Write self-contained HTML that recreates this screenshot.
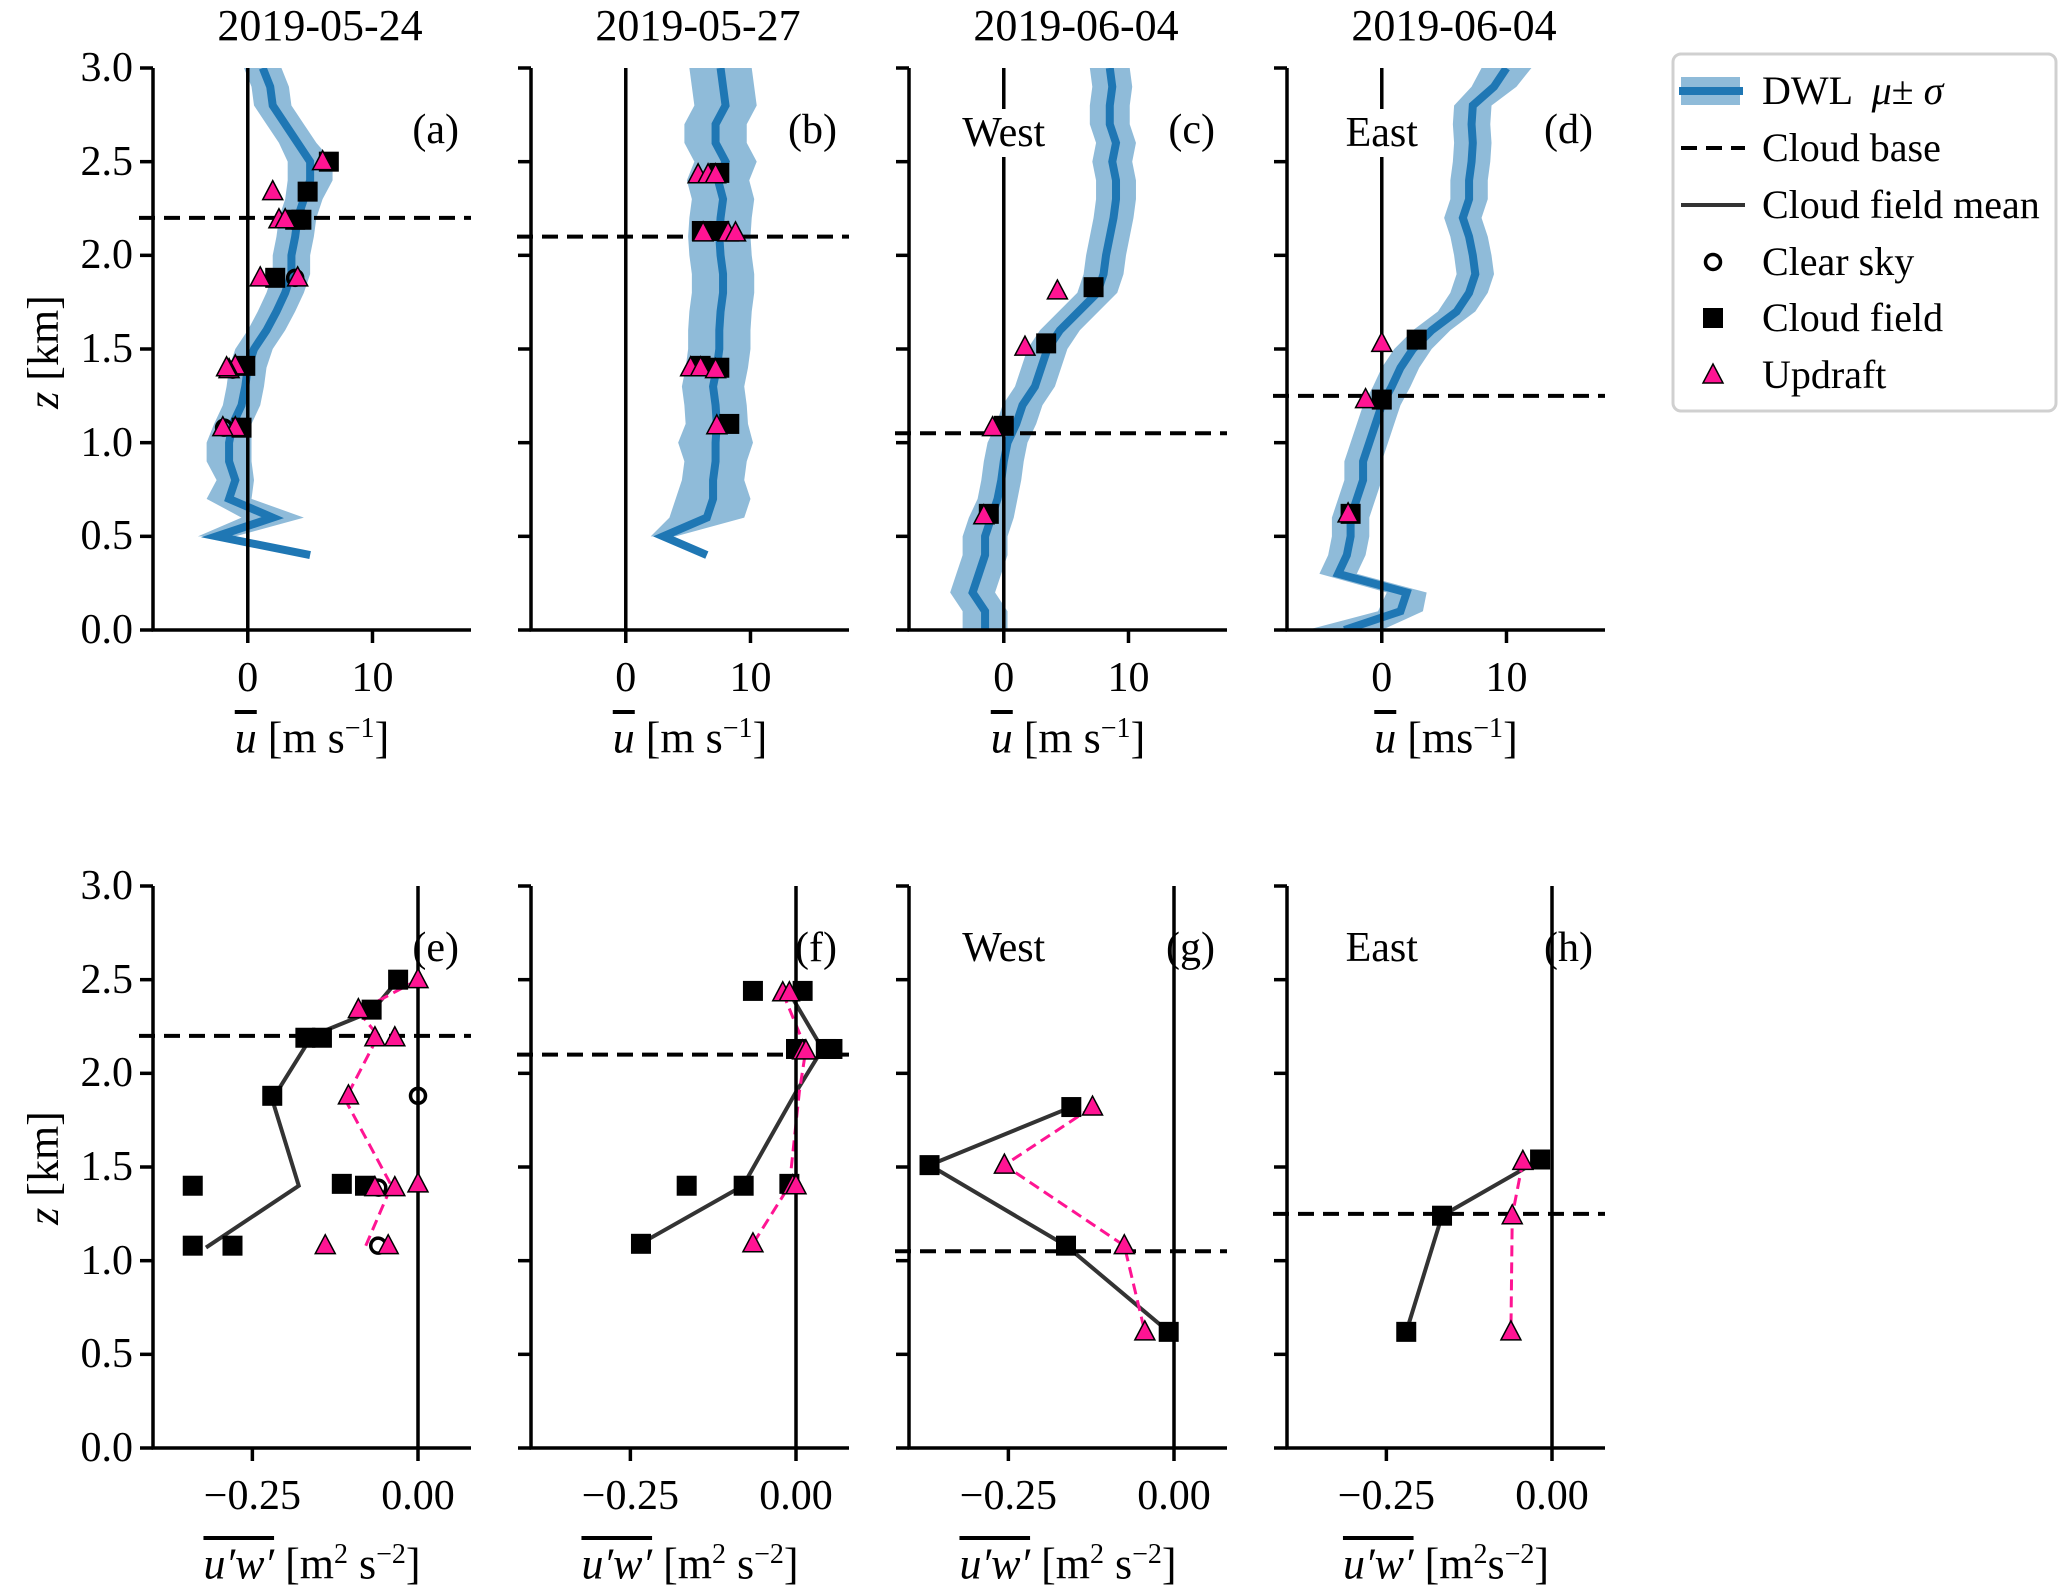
<!DOCTYPE html>
<html><head><meta charset="utf-8"><style>
body{margin:0;background:#fff;}
#wrap{position:relative;width:2067px;height:1592px;overflow:hidden;font-family:"Liberation Serif",serif;color:#000;}
.t{position:absolute;white-space:nowrap;font-size:42px;line-height:1;font-family:"Liberation Serif",serif;}
.ov{text-decoration:overline;font-style:italic;}
</style></head><body>
<div id="wrap">
<svg id="svg" width="2067" height="1592" style="position:absolute;left:0;top:0"></svg>
</div>
<script>
// ---- data ----
const panelTitles = ["2019-05-24","2019-05-27","2019-06-04","2019-06-04"];
const topLetters = ["(a)","(b)","(c)","(d)"];
const botLetters = ["(e)","(f)","(g)","(h)"];
const sideLabels = ["","","West","East"];
const cloudBase = [2.2,2.1,1.05,1.25];
const zA = [0.4,0.5,0.6,0.7,0.8,0.9,1.0,1.1,1.2,1.3,1.4,1.5,1.6,1.7,1.8,1.9,2.0,2.1,2.2,2.3,2.4,2.5,2.6,2.7,2.8,2.9,3.0];
const uA = [5,-2.5,2,-1.5,-1,-1.5,-1.5,-1.2,-0.5,-0.2,0,0.5,1.5,2.3,3,3.5,3.5,3.8,4,4.5,5,5,4,3,2,1.8,1.2];
const sA = [0,1.5,2.5,1.8,1.5,1.8,1.8,1.5,1.5,1.5,1.5,1.5,1.5,1.5,1.5,1.5,1.5,1.5,1.5,1.5,1.8,1.8,1.5,1.5,1.5,1.5,1.5];
const zB = zA;
const uB = [6.5,3,6.5,7,7,7.2,7.2,7.3,7.2,7,7.3,7.5,7.5,7.6,7.8,7.8,7.6,7.5,7.6,7.8,7.4,8,7.2,7.2,8,7.8,7.6];
const sB = [0,1,3,3,2.5,2.5,3,2.5,2.5,2.5,2.5,2.5,2.5,2.5,2.5,2.5,2.5,2.5,2.5,2.5,2.5,2.5,2.5,2.5,2.5,2.5,2.5];
const zC = [0,0.1,0.2,0.3,0.4,0.5,0.6,0.7,0.8,0.9,1.0,1.1,1.2,1.3,1.4,1.5,1.6,1.7,1.8,1.9,2.0,2.1,2.2,2.3,2.4,2.5,2.6,2.7,2.8,2.9,3.0];
const uC = [-1.5,-1.5,-2.5,-2,-1.5,-1.5,-1,-0.5,-0.2,0,0.3,1,1.5,2.5,3,3.5,4.5,6,7.5,8,8.2,8.5,8.8,9,9,8.7,9,8.5,8.5,8.7,8.5];
const sC = [1.8,1.8,1.8,1.8,1.8,1.8,1.8,1.6,1.6,1.6,1.6,1.6,1.6,1.6,1.6,1.6,1.6,1.6,1.6,1.6,1.6,1.6,1.6,1.6,1.6,1.6,1.6,1.6,1.6,1.6,1.6];
const zD = zC;
const uD = [-3,1.5,2,-3.5,-2.8,-2.5,-2.5,-2,-1.5,-1.5,-1,-0.5,0,0.8,1.5,2.5,4,6,7,7.5,7.3,7,6.5,7,7,7.2,7.3,7.2,7.3,9,10];
const sD = [3,1.8,1.6,1.5,1.5,1.5,1.5,1.5,1.5,1.5,1.5,1.5,1.5,1.5,1.5,1.5,1.5,1.5,1.5,1.5,1.5,1.5,1.5,1.5,1.5,1.5,1.5,1.5,1.5,1.8,2];
// top markers [u, z]
const topSq = [
 [[6.5,2.5],[4.8,2.34],[4.3,2.19],[3.8,2.19],[2.2,1.88],[-0.2,1.41],[-0.5,1.08]],
 [[7.5,2.44],[6.1,2.13],[7.5,2.13],[6.0,1.41],[7.5,1.40],[8.3,1.10]],
 [[7.2,1.83],[3.4,1.53],[0,1.09],[-1.2,0.62]],
 [[2.8,1.55],[0,1.23],[-2.5,0.62]]];
const topTri = [
 [[6.0,2.5],[2.0,2.34],[2.5,2.19],[3.0,2.19],[1.0,1.88],[4.0,1.88],[-1.0,1.41],[-1.5,1.39],[-1.7,1.40],[-1.0,1.08],[-2.0,1.08]],
 [[5.8,2.43],[6.6,2.43],[7.2,2.43],[6.2,2.12],[8.2,2.12],[8.8,2.12],[5.2,1.40],[6.0,1.40],[7.2,1.39],[7.3,1.09]],
 [[4.3,1.81],[1.7,1.51],[-0.9,1.08],[-1.6,0.61]],
 [[0,1.53],[-1.3,1.23],[-2.7,0.62]]];
const topCirc = [[[3.8,1.88],[-1.2,1.39],[-1.9,1.08]],[],[],[]];
// bottom [u'w', z]
const meanLine = [
 [[-0.03,2.5],[-0.07,2.33],[-0.16,2.2],[-0.22,1.86],[-0.18,1.40],[-0.32,1.07]],
 [[-0.01,2.43],[0.04,2.13],[0,1.9],[-0.08,1.40],[-0.235,1.09]],
 [[-0.155,1.82],[-0.369,1.51],[-0.163,1.08],[-0.008,0.62]],
 [[-0.018,1.54],[-0.166,1.24],[-0.22,0.62]]];
const updLine = [
 [[0,2.5],[-0.09,2.33],[-0.06,2.2],[-0.11,1.86],[-0.04,1.40],[-0.08,1.07]],
 [[-0.02,2.43],[0.015,2.13],[0.005,1.9],[-0.01,1.40],[-0.065,1.09]],
 [[-0.123,1.82],[-0.256,1.51],[-0.075,1.08],[-0.044,0.62]],
 [[-0.044,1.53],[-0.06,1.24],[-0.062,0.62]]];
const botSq = [
 [[-0.03,2.5],[-0.07,2.34],[-0.17,2.19],[-0.145,2.19],[-0.22,1.88],[-0.34,1.40],[-0.115,1.41],[-0.08,1.40],[-0.34,1.08],[-0.28,1.08]],
 [[-0.065,2.44],[0.01,2.44],[0,2.13],[0.045,2.13],[0.055,2.13],[-0.165,1.40],[-0.079,1.40],[-0.01,1.41],[-0.234,1.09]],
 [[-0.155,1.82],[-0.369,1.51],[-0.163,1.08],[-0.008,0.62]],
 [[-0.018,1.54],[-0.166,1.24],[-0.22,0.62]]];
const botTri = [
 [[0,2.5],[-0.09,2.34],[-0.065,2.19],[-0.035,2.19],[-0.105,1.88],[-0.065,1.39],[-0.035,1.39],[0,1.41],[-0.14,1.08],[-0.045,1.08]],
 [[-0.02,2.43],[-0.01,2.43],[0.01,2.12],[0.015,2.12],[-0.005,1.40],[0,1.40],[-0.065,1.09]],
 [[-0.123,1.82],[-0.256,1.51],[-0.075,1.08],[-0.044,0.62]],
 [[-0.044,1.53],[-0.06,1.24],[-0.062,0.62]]];
const botCirc = [[[0,1.88],[-0.06,1.39],[-0.06,1.08]],[],[],[]];
const yTicks = [0,0.5,1,1.5,2,2.5,3];
const yTickLabels = ["0.0","0.5","1.0","1.5","2.0","2.5","3.0"];
const topXTicks = [0,10];
const topXTickLabels = ["0","10"];
const botXTicks = [-0.25,0];
const botXTickLabels = ["\u22120.25","0.00"];

// ---- layout ----
const NS="http://www.w3.org/2000/svg";
const svg=document.getElementById('svg');
const wrap=document.getElementById('wrap');
const lefts=[153,531,909,1287], W=318;
const top1={y0:68,y1:630,xmin:-7.6,xmax:17.9};
const bot1={y0:886,y1:1448,xmin:-0.40,xmax:0.08};
function mk(tag,attrs,parent){const e=document.createElementNS(NS,tag);for(const k in attrs)e.setAttribute(k,attrs[k]);(parent||svg).appendChild(e);return e;}
function txt(s,x,y,anchor,cls,size){const d=document.createElement('div');d.className='t '+(cls||'');d.innerHTML=s;d.style.fontSize=(size||42)+'px';wrap.appendChild(d);
 const r=d.getBoundingClientRect();let l=x;if(anchor==='c')l=x-r.width/2;else if(anchor==='r')l=x-r.width;d.style.left=l+'px';d.style.top=(y-r.height/2)+'px';return d;}
function axes(i,cfg){
 const L=lefts[i],R=L+W;
 const sx=v=>L+(v-cfg.xmin)/(cfg.xmax-cfg.xmin)*W;
 const sy=z=>cfg.y1-(z/3)*(cfg.y1-cfg.y0);
 return {L,R,sx,sy};
}
function marker(g,type,x,y){
 let e;
 if(type==='sq'){e=mk('rect',{x:x-10,y:y-10,width:20,height:20,fill:'#000'},g);}
 else if(type==='tri'){e=mk('polygon',{points:`${x},${y-11} ${x-10},${y+8} ${x+10},${y+8}`,fill:'#ff1493',stroke:'#000','stroke-width':1.5},g);}
 else {e=mk('circle',{cx:x,cy:y,r:7.5,fill:'none',stroke:'#000','stroke-width':3.5},g);}
 
}
const profZ=[zA,zB,zC,zD],profU=[uA,uB,uC,uD],profS=[sA,sB,sC,sD];
const topZeroOffset=(0-top1.xmin)/(top1.xmax-top1.xmin)*W;

for(let row=0;row<2;row++){
 const cfg=row===0?top1:bot1;
 for(let i=0;i<4;i++){
  const a=axes(i,cfg);
  const g=mk('g',{});
  
  
  const cid='clip'+row+i;
  const cp=mk('clipPath',{id:cid},g);mk('rect',{x:a.L,y:cfg.y0,width:W,height:cfg.y1-cfg.y0},cp);
  const pg=mk('g',{'clip-path':`url(#${cid})`},g);
  if(row===0){
   const Z=profZ[i],U=profU[i],S=profS[i];
   let up=[],dn=[];
   for(let k=0;k<Z.length;k++){if(S[k]>0){up.push(a.sx(U[k]+S[k])+','+a.sy(Z[k]));dn.unshift(a.sx(U[k]-S[k])+','+a.sy(Z[k]));}}
   const band=mk('polygon',{points:up.concat(dn).join(' '),fill:'#8fbbd9',stroke:'none'},pg);
   
   const ln=mk('polyline',{points:Z.map((z,k)=>a.sx(U[k])+','+a.sy(z)).join(' '),fill:'none',stroke:'#1f77b4','stroke-width':8,'stroke-linejoin':'miter'},pg);
   
  }
  const zl=mk('line',{x1:a.sx(0),x2:a.sx(0),y1:cfg.y0,y2:cfg.y1,stroke:'#000','stroke-width':3.5},g);
  
  const cb=mk('line',{x1:a.L-14,x2:a.R,y1:a.sy(cloudBase[i]),y2:a.sy(cloudBase[i]),stroke:'#000','stroke-width':4,'stroke-dasharray':'16,9'},g);
  
  if(row===1){
   const ml=mk('polyline',{points:meanLine[i].map(p=>a.sx(p[0])+','+a.sy(p[1])).join(' '),fill:'none',stroke:'#333','stroke-width':4},pg);
   
   const ul=mk('polyline',{points:updLine[i].map(p=>a.sx(p[0])+','+a.sy(p[1])).join(' '),fill:'none',stroke:'#ff1493','stroke-width':3,'stroke-dasharray':'11,6'},pg);
   
  }
  const sq=row===0?topSq[i]:botSq[i],tr=row===0?topTri[i]:botTri[i],ci=row===0?topCirc[i]:botCirc[i];
  ci.forEach(p=>marker(g,'ci',a.sx(p[0]),a.sy(p[1])));
  sq.forEach(p=>marker(g,'sq',a.sx(p[0]),a.sy(p[1])));
  tr.forEach(p=>marker(g,'tri',a.sx(p[0]),a.sy(p[1])));
  mk('line',{x1:a.L,x2:a.L,y1:cfg.y0,y2:cfg.y1+1.5,stroke:'#000','stroke-width':3.5},g);
  mk('line',{x1:a.L-1.5,x2:a.R,y1:cfg.y1,y2:cfg.y1,stroke:'#000','stroke-width':3.5},g);
  yTicks.forEach((v,k)=>{mk('line',{x1:a.L-13,x2:a.L,y1:a.sy(v),y2:a.sy(v),stroke:'#000','stroke-width':3.5},g);
   if(i===0)txt(yTickLabels[k],a.L-20,a.sy(v),'r');});
  const xt=row===0?topXTicks:botXTicks,xtl=row===0?topXTickLabels:botXTickLabels;
  xt.forEach((v,k)=>{mk('line',{x1:a.sx(v),x2:a.sx(v),y1:cfg.y1,y2:cfg.y1+13,stroke:'#000','stroke-width':3.5},g);
   txt(xtl[k],a.sx(v),cfg.y1+48,'c');});
  const lt=txt(row===0?topLetters[i]:botLetters[i],a.R-12,cfg.y0+62,'r');
  
  if(sideLabels[i]){
   const cx=a.L+topZeroOffset;
   const s=txt(sideLabels[i],cx,cfg.y0+62,'c');
   if(row===0){s.style.background='#fff';s.style.padding='3px 5px';}
   const r=s.getBoundingClientRect();s.style.left=(cx-r.width/2)+'px';
   }
  if(row===0){
   const t=txt(panelTitles[i],a.L+W/2+8,26,'c',null,44);
   const unit=i===3?'[ms<sup style="font-size:28px">\u22121</sup>]':'[m s<sup style="font-size:28px">\u22121</sup>]';
   const xl=txt('<span class="ov">u</span> '+unit,a.L+W/2,738,'c',null,44);
  } else {
   const unit=i===3?'[m<sup style="font-size:28px">2</sup>s<sup style="font-size:28px">\u22122</sup>]':'[m<sup style="font-size:28px">2</sup> s<sup style="font-size:28px">\u22122</sup>]';
   const xl=txt('<span class="ov">u\u2032w\u2032</span> '+unit,a.L+W/2,1564,'c',null,44);
  }
 }
 const yl=txt('<i>z</i> [km]',44,row===0?352:1168,'c',null,44);
 yl.style.transform='rotate(-90deg)';
 
}
// legend
const lg=mk('g',{});


mk('rect',{x:1673,y:54,width:383,height:357,rx:8,fill:'#fff',stroke:'#d0d0d0','stroke-width':3},lg);
const legY=[91,148,205,262,318,375];
const legText=['DWL &nbsp;<i>\u03bc</i>\u00b1 <i>\u03c3</i>','Cloud base','Cloud field mean','Clear sky','Cloud field','Updraft'];
mk('rect',{x:1681,y:legY[0]-14,width:59,height:28,fill:'#8fbbd9'},lg);
mk('line',{x1:1679,x2:1743,y1:legY[0],y2:legY[0],stroke:'#1f77b4','stroke-width':8},lg);
mk('line',{x1:1681,x2:1745,y1:legY[1],y2:legY[1],stroke:'#000','stroke-width':4,'stroke-dasharray':'16,9'},lg);
mk('line',{x1:1681,x2:1745,y1:legY[2],y2:legY[2],stroke:'#333','stroke-width':4},lg);
marker(lg,'ci',1713,legY[3]);
marker(lg,'sq',1713,legY[4]);
marker(lg,'tri',1713,legY[5]);
legText.forEach((s,k)=>{const d=txt(s,1762,legY[k],'l',null,40);d.style.left='1762px';
 
 });
</script>
</body></html>
